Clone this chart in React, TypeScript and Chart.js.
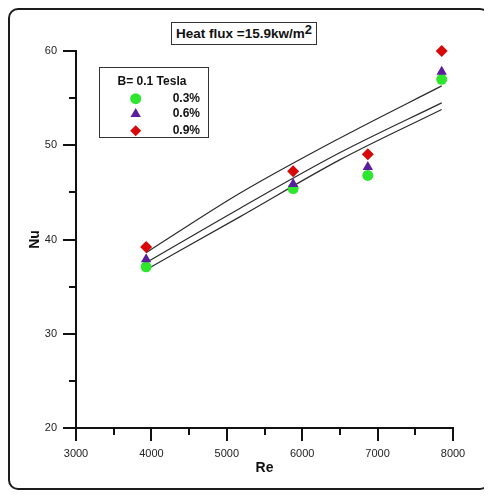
import React, { useEffect, useRef } from 'react';
import { Chart, registerables } from 'chart.js';

Chart.register(...registerables);

// ---- data ----
const reValues = [3930, 5880, 6870, 7850];
const nu03 = [37.1, 45.4, 46.8, 57.0];
const nu06 = [37.9, 45.9, 47.7, 57.8];
const nu09 = [39.2, 47.25, 49.05, 60.0];

const fitRe = [3930, 5172, 6497, 7850];
const fitUpper = [38.6, 44.9, 50.75, 56.3];
const fitMiddle = [37.55, 43.3, 49.2, 54.5];
const fitLower = [36.8, 42.4, 48.45, 53.8];

const xMajorTicks = [3000, 4000, 5000, 6000, 7000, 8000];
const xMinorTicks = [3500, 4500, 5500, 6500, 7500];
const yMajorTicks = [20, 30, 40, 50, 60];
const yMinorTicks = [25, 35, 45, 55];

const seriesLabels = ['0.3%', '0.6%', '0.9%'];
const legendTitle = 'B= 0.1 Tesla';
const xTitle = 'Re';
const yTitle = 'Nu';
const titleMain = 'Heat flux =15.9kw/m';
const titleSup = '2';

const GREEN = '#2fe62f';
const PURPLE = '#5a1e9c';
const RED = '#d60808';
const FONT = '"Liberation Sans", Arial, Helvetica, sans-serif';

const toPts = (xs: number[], ys: number[]) => xs.map((x, i) => ({ x, y: ys[i] }));

function drawMarker(ctx: CanvasRenderingContext2D, kind: string, x: number, y: number, r: number, color: string) {
  ctx.save();
  ctx.fillStyle = color;
  ctx.beginPath();
  if (kind === 'circle') {
    ctx.arc(x, y, r, 0, Math.PI * 2);
  } else if (kind === 'triangle') {
    const a = -Math.PI / 2;
    for (let i = 0; i < 3; i++) {
      const ang = a + (i * 2 * Math.PI) / 3;
      const px = x + Math.cos(ang) * r;
      const py = y + Math.sin(ang) * r;
      if (i === 0) ctx.moveTo(px, py);
      else ctx.lineTo(px, py);
    }
    ctx.closePath();
  } else {
    ctx.moveTo(x, y - r);
    ctx.lineTo(x + r, y);
    ctx.lineTo(x, y + r);
    ctx.lineTo(x - r, y);
    ctx.closePath();
  }
  ctx.fill();
  ctx.restore();
}

const decorPlugin = {
  id: 'decor',
  afterDraw(chart: any) {
    const { ctx, chartArea } = chart;
    const xs = chart.scales.x;
    const ys = chart.scales.y;
    ctx.save();
    ctx.strokeStyle = '#111';
    ctx.lineWidth = 2;
    ctx.lineCap = 'butt';
    const b = chartArea.bottom;
    xMajorTicks.forEach((v) => {
      const p = Math.round(xs.getPixelForValue(v));
      ctx.beginPath();
      ctx.moveTo(p, b);
      ctx.lineTo(p, b + 13);
      ctx.stroke();
    });
    xMinorTicks.forEach((v) => {
      const p = Math.round(xs.getPixelForValue(v));
      ctx.beginPath();
      ctx.moveTo(p, b);
      ctx.lineTo(p, b + 7);
      ctx.stroke();
    });
    const l = chartArea.left;
    yMajorTicks.forEach((v) => {
      const p = Math.round(ys.getPixelForValue(v));
      ctx.beginPath();
      ctx.moveTo(l - 13, p);
      ctx.lineTo(l, p);
      ctx.stroke();
    });
    yMinorTicks.forEach((v) => {
      const p = Math.round(ys.getPixelForValue(v));
      ctx.beginPath();
      ctx.moveTo(l - 7, p);
      ctx.lineTo(l, p);
      ctx.stroke();
    });

    // legend box
    const bx = 91.5, by = 59.5, bw = 109, bh = 70;
    ctx.lineWidth = 1;
    ctx.strokeStyle = '#333';
    ctx.strokeRect(bx, by, bw, bh);
    ctx.fillStyle = '#111';
    ctx.font = `bold 12px ${FONT}`;
    ctx.textAlign = 'center';
    ctx.textBaseline = 'middle';
    ctx.fillText(legendTitle, 144, 74);
    const rows = [90.7, 106, 122.7];
    const kinds = ['circle', 'triangle', 'diamond'];
    const colors = [GREEN, PURPLE, RED];
    const sizes = [5.5, 6, 5.5];
    rows.forEach((ry, i) => {
      drawMarker(ctx, kinds[i], 127.7, ry, sizes[i], colors[i]);
      ctx.fillStyle = '#111';
      ctx.font = `bold 12px ${FONT}`;
      ctx.textAlign = 'right';
      ctx.textBaseline = 'middle';
      ctx.fillText(seriesLabels[i], 192, ry);
    });
    ctx.restore();
  },
};

export default function App() {
  const ref = useRef<HTMLCanvasElement | null>(null);

  useEffect(() => {
    if (!ref.current) return;
    const lineDs = (data: number[]) => ({
      type: 'line' as const,
      data: toPts(fitRe, data),
      showLine: true,
      borderColor: '#2a2a2a',
      borderWidth: 1.2,
      pointRadius: 0,
      cubicInterpolationMode: 'monotone' as const,
      fill: false,
      order: 10,
    });
    const chart = new Chart(ref.current, {
      type: 'scatter',
      data: {
        datasets: [
          lineDs(fitUpper) as any,
          lineDs(fitMiddle) as any,
          lineDs(fitLower) as any,
          {
            label: seriesLabels[0],
            data: toPts(reValues, nu03),
            pointStyle: 'circle',
            pointRadius: 5.5,
            backgroundColor: GREEN,
            borderColor: GREEN,
            borderWidth: 0,
            clip: false,
            order: 2,
          },
          {
            label: seriesLabels[1],
            data: toPts(reValues, nu06),
            pointStyle: 'triangle',
            pointRadius: 6,
            backgroundColor: PURPLE,
            borderColor: PURPLE,
            borderWidth: 0,
            clip: false,
            order: 1,
          },
          {
            label: seriesLabels[2],
            data: toPts(reValues, nu09),
            pointStyle: 'rectRot',
            pointRadius: 6,
            backgroundColor: RED,
            borderColor: RED,
            borderWidth: 0,
            clip: false,
            order: 0,
          },
        ],
      },
      options: {
        responsive: false,
        animation: false,
        devicePixelRatio: 1,
        layout: { padding: { left: 0, top: 43, right: 37, bottom: 0 } },
        plugins: {
          legend: { display: false },
          tooltip: { enabled: false },
          title: { display: false },
        },
        scales: {
          x: {
            type: 'linear',
            min: 3000,
            max: 8000,
            afterFit: (s: any) => {
              s.height = 62;
            },
            afterBuildTicks: (s: any) => {
              s.ticks = xMajorTicks.map((v) => ({ value: v }));
            },
            grid: { display: false, drawTicks: false },
            border: { display: true, color: '#111', width: 2 },
            ticks: {
              padding: 19,
              color: '#222',
              font: { family: FONT, size: 11 },
              maxRotation: 0,
              callback: (v: any) => String(v),
            },
            title: {
              display: true,
              text: xTitle,
              color: '#111',
              font: { family: FONT, size: 14, weight: 'bold' },
              padding: { top: 0, bottom: 13.6 },
            },
          },
          y: {
            type: 'linear',
            min: 20,
            max: 60,
            afterFit: (s: any) => {
              s.width = 68;
            },
            afterBuildTicks: (s: any) => {
              s.ticks = yMajorTicks.map((v) => ({ value: v }));
            },
            grid: { display: false, drawTicks: false },
            border: { display: true, color: '#111', width: 2 },
            ticks: {
              padding: 19,
              color: '#222',
              font: { family: FONT, size: 11 },
              callback: (v: any) => String(v),
            },
            title: {
              display: true,
              text: yTitle,
              color: '#111',
              font: { family: FONT, size: 14, weight: 'bold' },
              padding: { top: 18.5, bottom: 0 },
            },
          },
        },
      },
      plugins: [decorPlugin],
    } as any);
    return () => chart.destroy();
  }, []);

  return (
    <div style={{ position: 'relative', width: 482, height: 482 }}>
      <canvas ref={ref} width={482} height={482} style={{ display: 'block', width: 482, height: 482 }} />
      <div
        style={{
          position: 'absolute',
          left: 0,
          top: 0,
          width: 482,
          height: 482,
          boxSizing: 'border-box',
          border: '2px solid #1c1c1c',
          borderRadius: 10,
          pointerEvents: 'none',
        }}
      />
      <div
        style={{
          position: 'absolute',
          left: 163,
          top: 14,
          width: 146,
          height: 23,
          boxSizing: 'border-box',
          border: '1px solid #333',
          background: '#fff',
          fontFamily: FONT,
          fontWeight: 'bold',
          fontSize: 13.5,
          color: '#111',
          display: 'flex',
          alignItems: 'center',
          justifyContent: 'center',
          whiteSpace: 'nowrap',
          lineHeight: '23px',
        }}
      >
        <span>
          {titleMain}
          <span style={{ fontSize: 13, position: 'relative', top: -4 }}>{titleSup}</span>
        </span>
      </div>
    </div>
  );
}
